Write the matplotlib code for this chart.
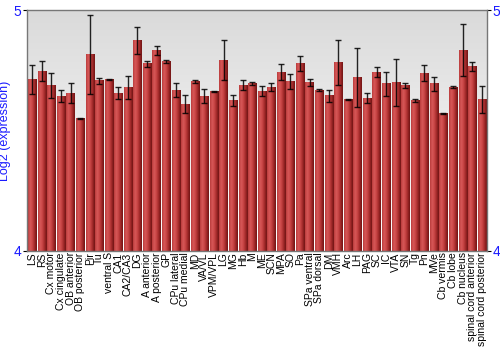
import numpy as np
import matplotlib
matplotlib.use('Agg')
import matplotlib.pyplot as plt
from matplotlib.colors import LinearSegmentedColormap

plt.rcParams['font.family'] = ['Liberation Sans', 'DejaVu Sans']

regions = ['LS', 'RS', 'Cx motor', 'Cx cingulate', 'OB anterior', 'OB posterior', 'Pir', 'Tu',
           'ventral S', 'CA1', 'CA2/CA3', 'DG', 'A anterior', 'A posterior', 'GP', 'CPu lateral',
           'CPu medial', 'MD', 'VA/VL', 'VPM/VPL', 'LG', 'MG', 'Hb', 'M', 'ME', 'SCN', 'MPA', 'SO',
           'Pa', 'SPa ventral', 'SPa dorsal', 'DM', 'VMH', 'Arc', 'LH', 'PAG', 'SC', 'IC', 'VTA',
           'SN', 'Tg', 'Pn', 'MVe', 'Cb vermis', 'Cb lobe', 'Cb nucleus', 'spinal cord anterior',
           'spinal cord posterior']

expression = [4.711, 4.747, 4.689, 4.643, 4.655, 4.551, 4.815, 4.707,
              4.714, 4.655, 4.678, 4.874, 4.778, 4.832, 4.785, 4.668,
              4.610, 4.704, 4.643, 4.664, 4.793, 4.625, 4.689, 4.696, 4.664, 4.681, 4.742, 4.704,
              4.779, 4.700, 4.668, 4.644, 4.783, 4.629, 4.719, 4.635, 4.743, 4.694, 4.700,
              4.688, 4.625, 4.738, 4.694, 4.571, 4.681, 4.833, 4.767,
              4.629]

errors = [0.061, 0.040, 0.052, 0.026, 0.041, 0.003, 0.165, 0.012,
          0.002, 0.026, 0.048, 0.058, 0.0125, 0.019, 0.006, 0.030,
          0.037, 0.007, 0.028, 0.002, 0.083, 0.021, 0.021, 0.006, 0.019, 0.017, 0.034, 0.031,
          0.031, 0.015, 0.003, 0.024, 0.092, 0.003, 0.122, 0.019, 0.020, 0.050, 0.098,
          0.010, 0.007, 0.033, 0.030, 0.002, 0.004, 0.108, 0.018,
          0.058]

fig = plt.figure(figsize=(5, 3.5), dpi=100)
ax = fig.add_axes([0.054, 0.283, 0.92, 0.688])

x = np.arange(len(regions))
ax.set_xlim(-0.55, len(regions) - 0.45)
ax.set_ylim(4, 5)

# background gradient: grey at top -> white at bottom
bg = np.linspace(1, 0, 256).reshape(-1, 1)
bg_cmap = LinearSegmentedColormap.from_list('bg', ['#ffffff', '#dadada'])
ax.imshow(bg, cmap=bg_cmap, aspect='auto', extent=[0, 1, 0, 1],
          transform=ax.transAxes, zorder=0, origin='upper')

bars = ax.bar(x, expression, width=0.86, bottom=0, color='none', zorder=2)

# horizontal shading on each bar
bar_cmap = LinearSegmentedColormap.from_list(
    'bar', ['#b83a3a', '#d85a5a', '#c84444', '#a02828', '#6e1414'])
grad = np.linspace(0, 1, 64).reshape(1, -1)
for b in bars:
    x0, w = b.get_x(), b.get_width()
    h = b.get_height()
    ax.imshow(grad, cmap=bar_cmap, aspect='auto', extent=[x0, x0 + w, 4, h],
              zorder=2, interpolation='bicubic')

ax.errorbar(x, expression, yerr=errors, fmt='none', ecolor='black', elinewidth=1,
            capsize=2, capthick=1, alpha=0.85, zorder=3)

ax.set_xticks(x)
ax.set_xticklabels(regions, rotation=90, fontsize=7.5)
ax.tick_params(axis='x', length=0, pad=1)

ax.set_yticks([4, 5])
ax.set_yticklabels(['4', '5'])
ax.tick_params(axis='y', colors='#1a1aff', labelsize=10, length=3, pad=1,
               right=True, labelright=True, left=True, labelleft=True)
for lab in ax.get_yticklabels():
    lab.set_color('#1a1aff')
ax.tick_params(axis='y', color='black')

ax.set_ylabel('Log2 (expression)', color='#1a1aff', fontsize=9, labelpad=2)

for s in ax.spines.values():
    s.set_color('#777777')
    s.set_linewidth(1)

fig.savefig('out.png', dpi=100)
